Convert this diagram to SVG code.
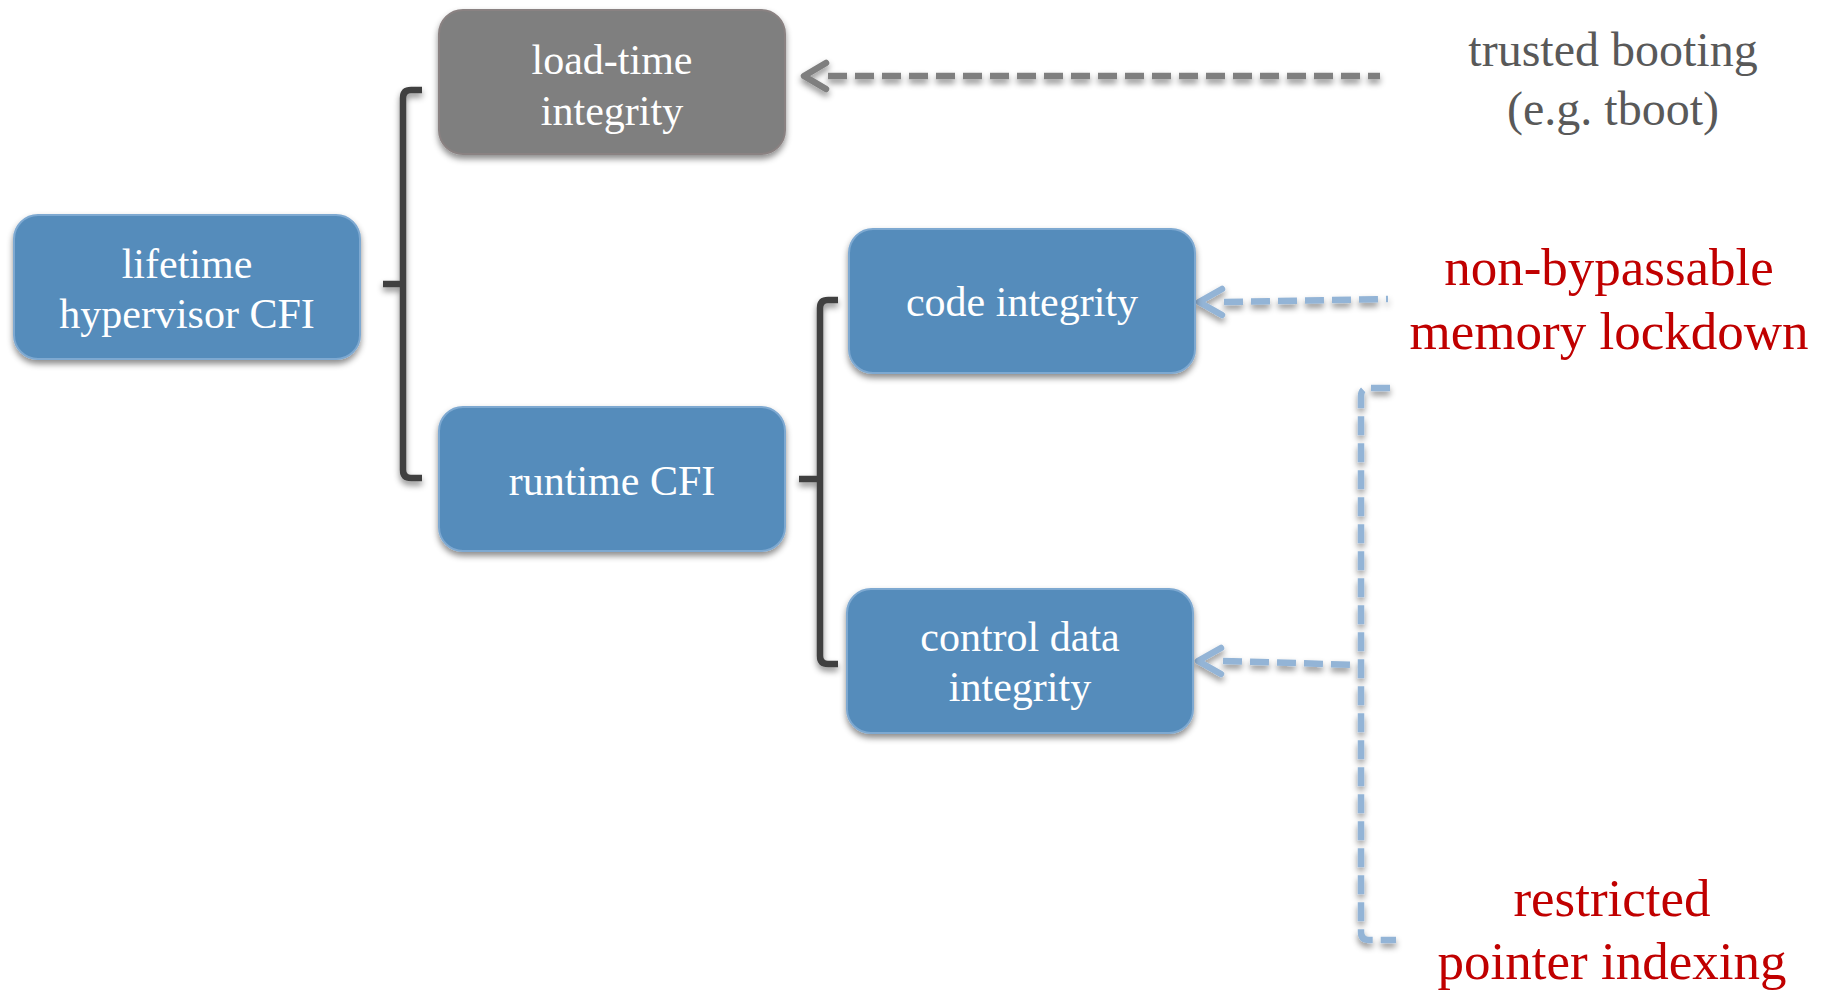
<svg xmlns="http://www.w3.org/2000/svg" width="1829" height="990" viewBox="0 0 1829 990">
<style>
.node{fill:#558cbb;stroke:#7ea9d1;stroke-width:2}
.gnode{fill:#7f7f7f;stroke:#8a8282;stroke-width:2}
.nt{font-family:"Liberation Serif","Times New Roman",serif;font-size:42px;fill:#ffffff;text-anchor:middle}
.br{fill:none;stroke:#404040;stroke-width:6.5;stroke-linecap:butt;stroke-linejoin:round}
.gd{fill:none;stroke:#7f7f7f;stroke-width:6.5;stroke-dasharray:19 8}
.ga{fill:none;stroke:#7f7f7f;stroke-width:6.5;stroke-linecap:round;stroke-linejoin:round}
.bd{fill:none;stroke:#93b4d6;stroke-width:6.5;stroke-dasharray:19 8}
.ba{fill:none;stroke:#93b4d6;stroke-width:6.5;stroke-linecap:round;stroke-linejoin:round}
.gt{font-family:"Liberation Serif","Times New Roman",serif;font-size:48px;fill:#595959;text-anchor:middle}
.rt{font-family:"Liberation Serif","Times New Roman",serif;font-size:53px;fill:#c00000;text-anchor:middle}
</style>
<defs>
<filter id="sh" x="-20%" y="-20%" width="140%" height="150%">
<feDropShadow dx="0" dy="4" stdDeviation="3" flood-color="#000" flood-opacity="0.45"/>
</filter>
</defs>
<g id="connectors" filter="url(#sh)">
<path class="br" d="M422,90 H411 Q403,90 403,98 V470 Q403,478 411,478 H422 M383,284 H403"/>
<path class="br" d="M838,300 H828 Q820,300 820,308 V656 Q820,664 828,664 H838 M799,479 H820"/>
<path class="gd" d="M828,76 H1380"/>
<polyline class="ga" points="826,63 804,76 826,89"/>
<path class="bd" d="M1224,302 L1388,299"/>
<polyline class="ba" points="1222,289 1199,302 1222,315"/>
<path class="bd" d="M1223,661 L1361,665"/>
<polyline class="ba" points="1221,648 1198,661 1221,674"/>
<path class="bd" d="M1390,388 H1369 Q1361,388 1361,396 V932 Q1361,940 1369,940 H1396"/>
</g>
<g id="lifetime">
<rect class="node" x="14" y="215" width="346" height="144" rx="24" filter="url(#sh)"/>
<text class="nt" x="187" y="278">lifetime</text>
<text class="nt" x="187" y="328">hypervisor CFI</text>
</g>
<g id="loadtime">
<rect class="gnode" x="439" y="10" width="346" height="144" rx="24" filter="url(#sh)"/>
<text class="nt" x="612" y="74">load-time</text>
<text class="nt" x="612" y="125">integrity</text>
</g>
<g id="runtime">
<rect class="node" x="439" y="407" width="346" height="144" rx="24" filter="url(#sh)"/>
<text class="nt" x="612" y="495">runtime CFI</text>
</g>
<g id="code">
<rect class="node" x="849" y="229" width="346" height="144" rx="24" filter="url(#sh)"/>
<text class="nt" x="1022" y="316">code integrity</text>
</g>
<g id="control">
<rect class="node" x="847" y="589" width="346" height="144" rx="24" filter="url(#sh)"/>
<text class="nt" x="1020" y="651">control data</text>
<text class="nt" x="1020" y="701">integrity</text>
</g>
<g id="trusted">
<text class="gt" x="1613" y="66">trusted booting</text>
<text class="gt" x="1613" y="125">(e.g. tboot)</text>
</g>
<g id="lockdown">
<text class="rt" x="1609" y="285">non-bypassable</text>
<text class="rt" x="1609" y="349">memory lockdown</text>
</g>
<g id="indexing">
<text class="rt" x="1612" y="916">restricted</text>
<text class="rt" x="1612" y="979">pointer indexing</text>
</g>
</svg>
